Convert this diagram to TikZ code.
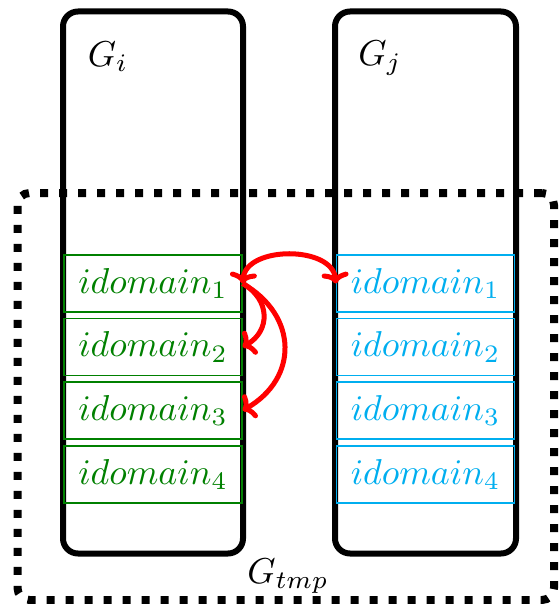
\documentclass[tikz,border=0pt]{standalone}
\usepackage{graphicx}
\usetikzlibrary{arrows.meta}
\definecolor{dgreen}{RGB}{0,128,0}
\definecolor{lcyan}{RGB}{0,174,239}
\newcommand{\bigtxt}[1]{\scalebox{3.6}{#1}}
\tikzset{
  frame/.style={draw=black, line width=6pt, rounded corners=15pt, inner sep=0pt},
  outerbox/.style={draw=black, line width=8pt, dash pattern=on 8pt off 11pt, rounded corners=12pt, inner sep=0pt},
  dombox/.style={draw=#1, text=#1, line width=1.3pt, minimum width=178pt, minimum height=57pt, inner sep=0pt},
  lab/.style={inner sep=0pt},
  redarrow/.style={draw=red, line width=5pt, >={To[length=11pt, width=27pt]}},
}
\begin{document}
\begin{tikzpicture}[x=1pt, y=-1pt]
\useasboundingbox (0,0) rectangle (558,604);
\node[outerbox, minimum width=536.5pt, minimum height=407pt] (Gtmp) at (285.75,396.5) {};
\node[frame, minimum width=180pt, minimum height=542pt] (Gi) at (153,282.5) {};
\node[frame, minimum width=181pt, minimum height=542pt] (Gj) at (425.5,282.5) {};
\node[lab] (li) at (108,57) {\bigtxt{$G_i$}};
\node[lab] (lj) at (380,58) {\bigtxt{$G_j$}};
\node[lab] (lt) at (288,576) {\bigtxt{$G_{tmp}$}};
\node[dombox=dgreen] (a1) at (153,283.5) {\bigtxt{$idomain_1$}};
\node[dombox=dgreen] (a2) at (153,347) {\bigtxt{$idomain_2$}};
\node[dombox=dgreen] (a3) at (153,410.5) {\bigtxt{$idomain_3$}};
\node[dombox=dgreen] (a4) at (153,474.5) {\bigtxt{$idomain_4$}};
\node[dombox=lcyan] (b1) at (425.5,283.5) {\bigtxt{$idomain_1$}};
\node[dombox=lcyan] (b2) at (425.5,347) {\bigtxt{$idomain_2$}};
\node[dombox=lcyan] (b3) at (425.5,410.5) {\bigtxt{$idomain_3$}};
\node[dombox=lcyan] (b4) at (425.5,474.5) {\bigtxt{$idomain_4$}};
\draw[redarrow, <->] (a1.east) to[bend left=85, looseness=1.05] (b1.west);
\draw[redarrow, ->] (a1.east) to[bend left=60, looseness=1.3] (a2.east);
\draw[redarrow, ->] (a1.east) to[bend left=60, looseness=1.3] (a3.east);
\end{tikzpicture}
\end{document}
